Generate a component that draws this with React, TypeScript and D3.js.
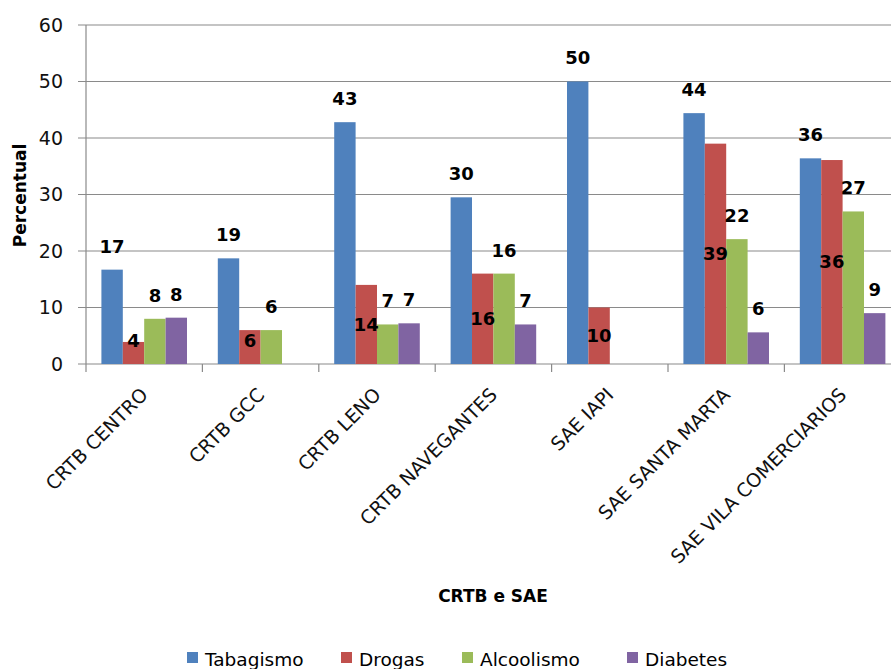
import React from "react";
import * as d3 from "d3";

const categories = [
  "CRTB CENTRO",
  "CRTB GCC",
  "CRTB LENO",
  "CRTB NAVEGANTES",
  "SAE IAPI",
  "SAE SANTA MARTA",
  "SAE VILA COMERCIARIOS",
];
const seriesNames = ["Tabagismo", "Drogas", "Alcoolismo", "Diabetes"];
const tabagismo = [16.7, 18.7, 42.8, 29.5, 50, 44.4, 36.4];
const drogas = [3.9, 6, 14, 16, 10, 39, 36.1];
const alcoolismo: (number | null)[] = [8, 6, 7, 16, null, 22.1, 27];
const diabetes: (number | null)[] = [8.2, null, 7.2, 7, null, 5.6, 9];
const yTicks = [0, 10, 20, 30, 40, 50, 60];
const colors = ["#4F81BD", "#C0504D", "#9BBB59", "#8064A2"];

const W = 891;
const H = 669;
const left = 86;
const top = 25;
const bottom = 364;
const bandW = 116.4;

export default function App() {
  const series = [tabagismo, drogas, alcoolismo, diabetes];
  const x = d3
    .scaleBand<string>()
    .domain(categories)
    .range([left, left + bandW * categories.length])
    .paddingInner(0)
    .paddingOuter(0);
  const xs = d3
    .scaleBand<string>()
    .domain(seriesNames)
    .range([0, x.bandwidth()])
    .paddingInner(0)
    .paddingOuter(0.72);
  const y = d3.scaleLinear().domain([0, 60]).range([bottom, top]);
  const grid = "#8a8a8a";
  const legendX = [205, 359, 480, 645];

  return (
    <div style={{ position: "fixed", left: 0, top: 0, width: W, height: H, background: "#fff" }}>
      <svg width={W} height={H} style={{ display: "block" }}>
        <rect x={0} y={0} width={W} height={H} fill="#fff" />
        {yTicks.map((t) => (
          <g key={t}>
            <line x1={78} x2={W} y1={y(t)} y2={y(t)} stroke={grid} strokeWidth={1.2} />
            <text
              x={63}
              y={y(t)}
              dy="0.36em"
              textAnchor="end"
              fontFamily="DejaVu Sans"
              fontSize={19}
              fill="#111"
            >
              {t}
            </text>
          </g>
        ))}
        <line x1={left} x2={left} y1={top} y2={bottom + 8} stroke={grid} strokeWidth={1.2} />
        {categories.map((c) => (
          <line
            key={"tk" + c}
            x1={(x(c) as number) + bandW}
            x2={(x(c) as number) + bandW}
            y1={bottom}
            y2={bottom + 8}
            stroke={grid}
            strokeWidth={1.2}
          />
        ))}
        {series.map((vals, si) =>
          vals.map((v, ci) => {
            if (v === null || v === undefined) return null;
            const bx = (x(categories[ci]) as number) + (xs(seriesNames[si]) as number);
            return (
              <rect
                key={si + "-" + ci}
                x={bx}
                y={y(v)}
                width={xs.bandwidth()}
                height={bottom - y(v)}
                fill={colors[si]}
              />
            );
          })
        )}
        {series.map((vals, si) =>
          vals.map((v, ci) => {
            if (v === null || v === undefined) return null;
            const cx = (x(categories[ci]) as number) + (xs(seriesNames[si]) as number) + xs.bandwidth() / 2;
            const ly = si === 1 ? Math.min(y(v / 2), bottom - 23) : y(v) - 23.5;
            return (
              <text
                key={"l" + si + "-" + ci}
                x={cx}
                y={ly}
                dy="0.36em"
                textAnchor="middle"
                fontFamily="DejaVu Sans"
                fontWeight="bold"
                fontSize={18}
                fill="#000"
              >
                {Math.round(v)}
              </text>
            );
          })
        )}
        {categories.map((c) => {
          const px = (x(c) as number) + bandW / 2 + 5;
          const py = 396;
          return (
            <text
              key={"c" + c}
              x={px}
              y={py}
              textAnchor="end"
              transform={`rotate(-45 ${px} ${py})`}
              fontFamily="DejaVu Sans"
              fontSize={19}
              fill="#111"
            >
              {c}
            </text>
          );
        })}
        <text
          transform={`translate(20 ${(top + bottom) / 2 + 1}) rotate(-90)`}
          textAnchor="middle"
          dy="0.36em"
          fontFamily="DejaVu Sans"
          fontWeight="bold"
          fontSize={17}
          fill="#000"
        >
          Percentual
        </text>
        <text
          x={493}
          y={602}
          textAnchor="middle"
          fontFamily="DejaVu Sans"
          fontWeight="bold"
          fontSize={17}
          fill="#000"
        >
          CRTB e SAE
        </text>
        {seriesNames.map((s, i) => (
          <g key={"lg" + s}>
            <rect x={legendX[i] - 18} y={652} width={11} height={11} fill={colors[i]} />
            <text x={legendX[i]} y={666} fontFamily="DejaVu Sans" fontSize={18.5} fill="#000">
              {s}
            </text>
          </g>
        ))}
      </svg>
    </div>
  );
}
